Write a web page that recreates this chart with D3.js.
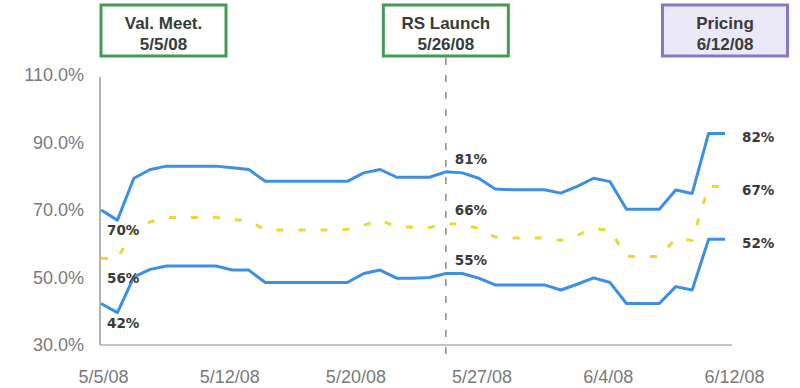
<!DOCTYPE html>
<html>
<head>
<meta charset="utf-8">
<script src="https://cdn.jsdelivr.net/npm/d3@7"></script>
<style>
  html, body { margin: 0; padding: 0; background: #fff; }
  svg { display: block; }
</style>
</head>
<body>
<svg id="chart" width="800" height="388"></svg>
<script>
// ---- data ----
const startDate = new Date(2008, 4, 5);
const endDate = new Date(2008, 5, 12);
const days = d3.timeDay.range(startDate, d3.timeDay.offset(endDate, 1)); // 5/5/08 .. 6/12/08

const upperValues = [70, 67, 79.4, 82, 83, 83, 83, 83, 82.5, 82,
  78.5, 78.5, 78.5, 78.5, 78.5, 78.5, 81, 82, 79.7, 79.7,
  79.7, 81.3, 81, 79.4, 76.2, 76, 76, 76, 75, 77,
  79.4, 78.4, 70.2, 70.2, 70.2, 75.9, 74.9, 92.7, 92.7];
const middleValues = [55.7, 55.5, 64.5, 66.5, 67.8, 67.8, 67.8, 67.8, 67.2, 66.8,
  64.1, 64.1, 64.1, 64.1, 64.1, 64.3, 65.5, 67, 65, 64.9,
  64.8, 66, 65.8, 64.5, 62, 61.7, 61.7, 61.7, 61, 62.5,
  64.5, 64, 56.3, 56.2, 56.2, 61.5, 61, 77, 77];
const lowerValues = [42.3, 39.6, 50.2, 52.4, 53.4, 53.4, 53.4, 53.4, 52.2, 52.2,
  48.5, 48.5, 48.5, 48.5, 48.5, 48.5, 51.2, 52.2, 49.8, 49.8,
  50, 51.2, 51.2, 49.8, 47.8, 47.8, 47.8, 47.8, 46.3, 48,
  49.9, 48.5, 42.3, 42.3, 42.3, 47.3, 46.3, 61.3, 61.3];

const xTickLabels = ["5/5/08", "5/12/08", "5/20/08", "5/27/08", "6/4/08", "6/12/08"];
const yTicks = [30, 50, 70, 90, 110];

const startLabels = ["70%", "56%", "42%"];
const midLabels = ["81%", "66%", "55%"];
const endLabels = ["82%", "67%", "52%"];

const events = [
  { title: "Val. Meet.", date: "5/5/08", day: new Date(2008, 4, 5), kind: "meet", align: "left" },
  { title: "RS Launch", date: "5/26/08", day: new Date(2008, 4, 26), kind: "launch", align: "center" },
  { title: "Pricing", date: "6/12/08", day: new Date(2008, 5, 12), kind: "pricing", align: "center" }
];

// ---- layout ----
const svg = d3.select("#chart");
const x = d3.scaleTime().domain([startDate, endDate]).range([101, 725]);
const y = d3.scaleLinear().domain([30, 110]).range([345, 75]);
const xLab = d3.scalePoint().domain(xTickLabels).range([103, 734]);

const grayText = "#7a7a7a";
const fontAxis = "'Liberation Sans', Arial, sans-serif";

// axes lines
svg.append("line")
  .attr("x1", 100).attr("x2", 100)
  .attr("y1", y(110) + 2).attr("y2", y(30))
  .attr("stroke", "#9a9a9a").attr("stroke-width", 1.5);
svg.append("line")
  .attr("x1", 100).attr("x2", 732)
  .attr("y1", y(30)).attr("y2", y(30))
  .attr("stroke", "#b0b0b0").attr("stroke-width", 1.5);

// y axis labels
const yAxis = d3.axisLeft(y).tickValues(yTicks).tickSize(0).tickPadding(0)
  .tickFormat(d => d3.format(".1f")(d) + "%");
const gy = svg.append("g").attr("transform", "translate(84,0)").call(yAxis);
gy.select(".domain").remove();
gy.selectAll("text").attr("font-family", fontAxis).attr("font-size", 18)
  .attr("fill", grayText);

// x axis labels
const xAxis = d3.axisBottom(xLab).tickSize(0).tickPadding(0);
const gx = svg.append("g").attr("transform", "translate(0,370)").call(xAxis);
gx.select(".domain").remove();
gx.selectAll("text").attr("font-family", fontAxis).attr("font-size", 18)
  .attr("fill", grayText).attr("dy", "0.72em");

// RS launch dashed line
const launchX = x(events[1].day);
svg.append("line")
  .attr("x1", launchX).attr("x2", launchX)
  .attr("y1", 58).attr("y2", 356)
  .attr("stroke", "#8a8a8a").attr("stroke-width", 1.5)
  .attr("stroke-dasharray", "7,10");

// lines
const line = d3.line().x((d, i) => x(days[i])).y(d => y(d)).curve(d3.curveLinear);

svg.append("path").datum(middleValues)
  .attr("d", line).attr("fill", "none")
  .attr("stroke", "#e8d935").attr("stroke-width", 3)
  .attr("stroke-dasharray", "7,15");
[upperValues, lowerValues].forEach(vals => {
  svg.append("path").datum(vals)
    .attr("d", line).attr("fill", "none")
    .attr("stroke", "#3d8fe2").attr("stroke-width", 3)
    .attr("stroke-linejoin", "round");
});

// value annotations
const series = [upperValues, middleValues, lowerValues];
const lblFont = "'DejaVu Sans', sans-serif";
function addLabels(texts, idx, dx, dyOff) {
  texts.forEach((t, k) => {
    svg.append("text")
      .attr("x", x(days[idx]) + dx)
      .attr("y", y(series[k][idx]) + dyOff)
      .attr("dy", "0.36em")
      .attr("font-family", lblFont).attr("font-weight", "bold")
      .attr("font-size", 13.5).attr("fill", "#3a3a3a")
      .text(t);
  });
}
addLabels(startLabels, 0, 6, 20);
addLabels(midLabels, 21, 9, -13);
addLabels(endLabels, 38, 17, 4);

// event boxes
const boxW = 125, boxH = 51, boxY = 5;
const boxStyle = {
  meet: { stroke: "#449a56", fill: "#ffffff" },
  launch: { stroke: "#449a56", fill: "#ffffff" },
  pricing: { stroke: "#8678c6", fill: "#ebe8f8" }
};
events.forEach(ev => {
  const cx = ev.align === "left" ? x(ev.day) + boxW / 2 : x(ev.day);
  const g = svg.append("g");
  g.append("rect")
    .attr("x", cx - boxW / 2).attr("y", boxY)
    .attr("width", boxW).attr("height", boxH)
    .attr("fill", boxStyle[ev.kind].fill)
    .attr("stroke", boxStyle[ev.kind].stroke).attr("stroke-width", 3);
  [ev.title, ev.date].forEach((t, k) => {
    g.append("text")
      .attr("x", cx).attr("y", boxY + 18 + k * 20.5)
      .attr("dy", "0.36em")
      .attr("text-anchor", "middle")
      .attr("font-family", "'Liberation Sans', Arial, sans-serif")
      .attr("font-weight", "bold").attr("font-size", 17)
      .attr("fill", "#3a3a3a")
      .text(t);
  });
});
</script>
</body>
</html>
